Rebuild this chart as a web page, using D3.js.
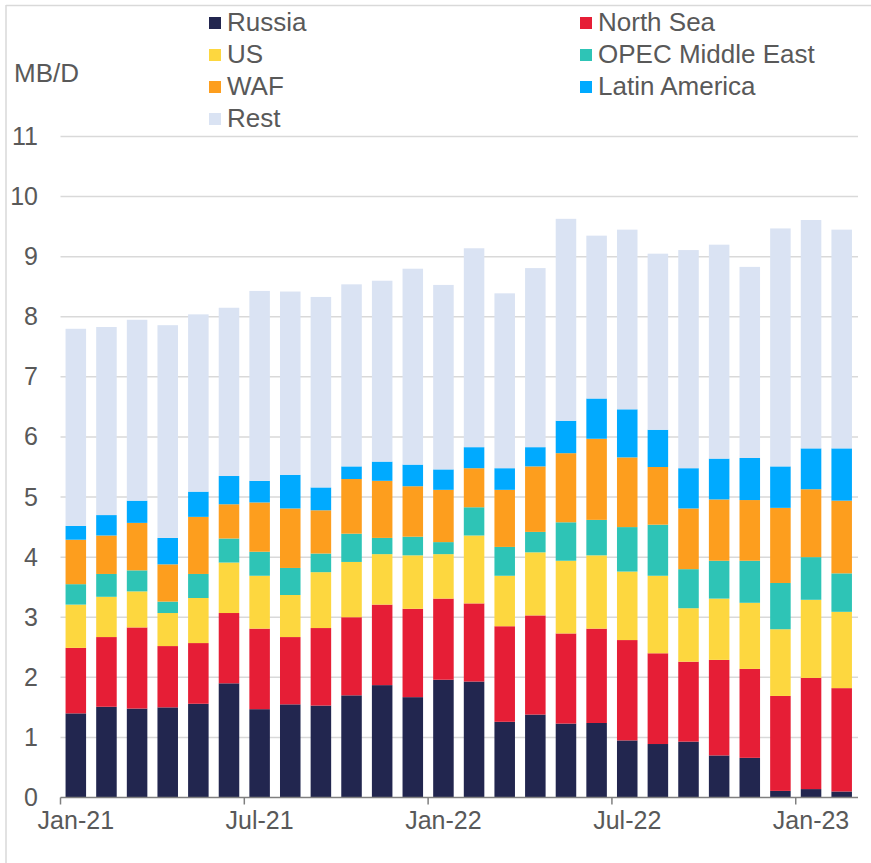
<!DOCTYPE html>
<html>
  <head>
    <title>Crude imports by origin</title>
    <style>
      body {
        margin: 0;
        background: #ffffff;
      }
      svg {
        font-family: "Liberation Sans", Arial, sans-serif;
      }
    </style>
  </head>
  <body>
    <svg id="chart" width="871" height="863"></svg>
    <script src="https://d3js.org/d3.v7.min.js"></script>
    <script>
      // months shown on the x axis
      var months = [
        "Jan-21", "Feb-21", "Mar-21", "Apr-21", "May-21", "Jun-21",
        "Jul-21", "Aug-21", "Sep-21", "Oct-21", "Nov-21", "Dec-21",
        "Jan-22", "Feb-22", "Mar-22", "Apr-22", "May-22", "Jun-22",
        "Jul-22", "Aug-22", "Sep-22", "Oct-22", "Nov-22", "Dec-22",
        "Jan-23", "Feb-23"
      ];
      var tickLabels = ["Jan-21", "Jul-21", "Jan-22", "Jul-22", "Jan-23"];
      var yTicks = [0, 1, 2, 3, 4, 5, 6, 7, 8, 9, 10, 11];

      var seriesNames = ["Russia", "North Sea", "US", "OPEC Middle East", "WAF", "Latin America", "Rest"];
      var seriesColors = ["#22264f", "#e61e36", "#fdd73f", "#2ec4b6", "#fd9e1e", "#00aaff", "#dae3f3"];

      // MB/D
      var russia = [1.40, 1.51, 1.48, 1.50, 1.56, 1.90, 1.47, 1.55, 1.53, 1.70, 1.87, 1.67, 1.96,
                    1.93, 1.26, 1.38, 1.23, 1.24, 0.95, 0.89, 0.93, 0.70, 0.66, 0.11, 0.14, 0.10];
      var northSea = [1.09, 1.16, 1.35, 1.02, 1.01, 1.17, 1.34, 1.12, 1.29, 1.30, 1.34, 1.47, 1.35,
                      1.30, 1.59, 1.65, 1.50, 1.57, 1.67, 1.51, 1.33, 1.59, 1.48, 1.58, 1.85, 1.72];
      var us = [0.72, 0.67, 0.60, 0.55, 0.75, 0.84, 0.88, 0.70, 0.93, 0.92, 0.84, 0.89, 0.74,
                1.13, 0.84, 1.05, 1.21, 1.22, 1.14, 1.29, 0.89, 1.02, 1.10, 1.11, 1.30, 1.27];
      var opecMe = [0.34, 0.38, 0.35, 0.19, 0.40, 0.40, 0.40, 0.45, 0.31, 0.47, 0.27, 0.31, 0.20,
                    0.47, 0.48, 0.34, 0.64, 0.59, 0.74, 0.85, 0.65, 0.63, 0.70, 0.77, 0.71, 0.64];
      var waf = [0.74, 0.64, 0.79, 0.62, 0.95, 0.57, 0.82, 0.99, 0.72, 0.91, 0.95, 0.84, 0.87,
                 0.65, 0.95, 1.09, 1.15, 1.35, 1.16, 0.96, 1.01, 1.02, 1.01, 1.25, 1.13, 1.21];
      var latam = [0.23, 0.34, 0.37, 0.44, 0.42, 0.47, 0.36, 0.56, 0.38, 0.21, 0.32, 0.36, 0.34,
                   0.35, 0.36, 0.32, 0.54, 0.67, 0.80, 0.62, 0.67, 0.68, 0.70, 0.69, 0.68, 0.87];
      var rest = [3.28, 3.13, 3.01, 3.54, 2.95, 2.80, 3.16, 3.05, 3.17, 3.03, 3.01, 3.26, 3.07,
                  3.31, 2.91, 2.98, 3.36, 2.71, 2.99, 2.93, 3.63, 3.56, 3.18, 3.96, 3.80, 3.64];

      var seriesValues = [russia, northSea, us, opecMe, waf, latam, rest];

      var svg = d3.select("#chart");
      var textColor = "#595959";
      var gridColor = "#d9d9d9";

      // frame lines (top and left only)
      svg.append("line").attr("x1", 6).attr("x2", 871).attr("y1", 5.5).attr("y2", 5.5)
        .attr("stroke", gridColor).attr("stroke-width", 1.5);
      svg.append("line").attr("x1", 6).attr("x2", 6).attr("y1", 5).attr("y2", 863)
        .attr("stroke", gridColor).attr("stroke-width", 1.5);

      // build rows for d3.stack
      var rows = months.map((m, i) => {
        var row = { month: m };
        seriesNames.forEach((name, s) => { row[name] = seriesValues[s][i]; });
        return row;
      });
      var stacked = d3.stack().keys(seriesNames)(rows);

      var x = d3.scaleBand()
        .domain(months)
        .range([60.5, 857])
        .paddingInner(0.33)
        .paddingOuter(0.165);

      var y = d3.scaleLinear().domain([0, 11]).range([797.5, 136.5]);

      // gridlines
      svg.append("g")
        .selectAll("line")
        .data(yTicks.filter(d => d > 0))
        .join("line")
        .attr("x1", 60.5)
        .attr("x2", 858)
        .attr("y1", d => y(d))
        .attr("y2", d => y(d))
        .attr("stroke", gridColor)
        .attr("stroke-width", 1.5);

      // y axis labels
      var yAxis = svg.append("g")
        .attr("transform", "translate(38,0)")
        .call(d3.axisLeft(y).tickValues(yTicks).tickSize(0).tickPadding(0).tickFormat(d3.format("d")));
      yAxis.select(".domain").remove();
      yAxis.selectAll("text")
        .attr("fill", textColor)
        .attr("font-size", "25px")
        .attr("font-family", "'Liberation Sans', Arial, sans-serif");

      // bars
      svg.append("g")
        .selectAll("g")
        .data(stacked)
        .join("g")
        .attr("fill", (d, i) => seriesColors[i])
        .selectAll("rect")
        .data(d => d)
        .join("rect")
        .attr("x", d => x(d.data.month))
        .attr("width", x.bandwidth())
        .attr("y", d => y(d[1]))
        .attr("height", d => y(d[0]) - y(d[1]));

      // x axis: ticks sit on band edges, labels on bar centres
      var step = x.step();
      var xAxis = svg.append("g")
        .attr("transform", "translate(0,797.5)")
        .call(d3.axisBottom(x).tickValues(tickLabels).tickSize(0).tickPadding(14));
      xAxis.select(".domain")
        .attr("d", "M60.5,0H858")
        .attr("stroke", "#7f7f7f")
        .attr("stroke-width", 1.5);
      xAxis.selectAll("text")
        .attr("fill", textColor)
        .attr("font-size", "25px")
        .attr("font-family", "'Liberation Sans', Arial, sans-serif");
      xAxis.selectAll(".tick")
        .append("line")
        .attr("x1", -step / 2)
        .attr("x2", -step / 2)
        .attr("y1", 0)
        .attr("y2", 7)
        .attr("stroke", "#7f7f7f")
        .attr("stroke-width", 1.5);

      // unit label
      svg.append("text")
        .attr("x", 14)
        .attr("y", 82)
        .attr("fill", textColor)
        .attr("font-size", "26px")
        .text("MB/D");

      // legend, two columns
      var legendPos = [
        [209, 22], [580, 22],
        [209, 54], [580, 54],
        [209, 86], [580, 86],
        [209, 118]
      ];
      var legend = svg.append("g")
        .selectAll("g")
        .data(seriesNames)
        .join("g")
        .attr("transform", (d, i) => "translate(" + legendPos[i][0] + "," + legendPos[i][1] + ")");
      legend.append("rect")
        .attr("x", 0)
        .attr("y", -5)
        .attr("width", 12)
        .attr("height", 12)
        .attr("fill", (d, i) => seriesColors[i]);
      legend.append("text")
        .attr("x", 18)
        .attr("y", 9)
        .attr("fill", textColor)
        .attr("font-size", "26px")
        .text(d => d);
    </script>
  </body>
</html>
